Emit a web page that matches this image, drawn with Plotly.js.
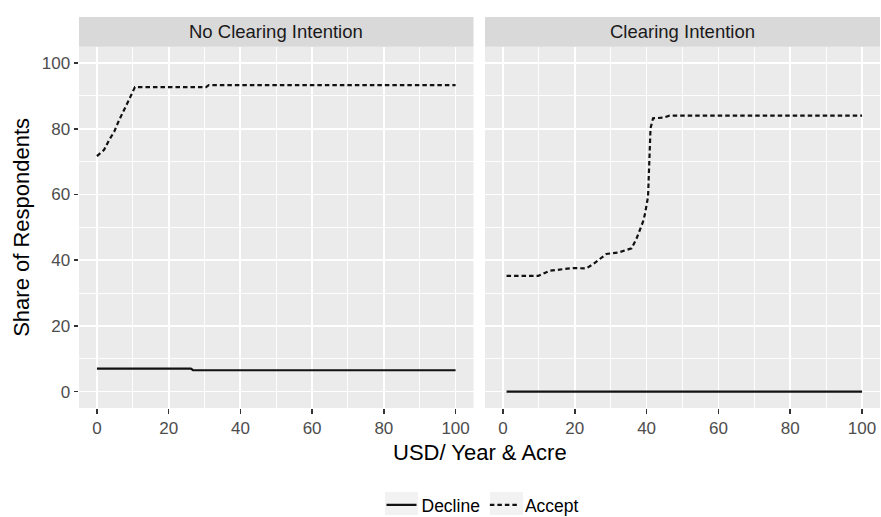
<!DOCTYPE html>
<html>
<head>
<meta charset="utf-8">
<script src="https://cdn.plot.ly/plotly-3.0.1.min.js"></script>
<style>html,body{margin:0;padding:0;background:#fff;}</style>
</head>
<body>
<div id="chart" style="width:881px;height:517px;"></div>
<script>
// Facet labels
const facets = ["No Clearing Intention", "Clearing Intention"];
const seriesNames = ["Decline", "Accept"];

// No Clearing Intention
const noClearDeclineX = [0, 26.2, 26.8, 100];
const noClearDeclineY = [7.0, 7.0, 6.5, 6.5];
const noClearAcceptX = [0, 2, 3.4, 4.8, 6.2, 7.4, 8.7, 10.6, 30.4, 31.2, 100];
const noClearAcceptY = [71.7, 73.6, 76.6, 79.1, 82.7, 85.2, 88.3, 92.7, 92.7, 93.3, 93.3];

// Clearing Intention
const clearDeclineX = [1, 100];
const clearDeclineY = [0, 0];
const clearAcceptX = [1, 9.8, 13, 15.8, 19.5, 23.2, 25.1, 28.8, 32, 35.8, 37.2, 39, 39.5, 40.4, 40.7, 40.9, 41.1, 41.8, 44.6, 46.4, 100];
const clearAcceptY = [35.2, 35.2, 36.8, 37.2, 37.6, 37.5, 38.8, 41.9, 42.3, 43.6, 46.6, 51.7, 53.8, 59.3, 68.5, 75.6, 80.2, 83.2, 83.4, 84.0, 84.0];

const tickVals = [0, 20, 40, 60, 80, 100];
const tickText = ["0", "20", "40", "60", "80", "100"];

const FONT = "Liberation Sans, Arial, sans-serif";
const solid = {color: "#111", width: 2.2};
const dashed = {color: "#111", width: 2.2, dash: "4.5px,3px"};

const traces = [
  {x: noClearDeclineX, y: noClearDeclineY, name: seriesNames[0], legendgroup: "d", mode: "lines", line: solid, xaxis: "x", yaxis: "y", showlegend: true},
  {x: noClearAcceptX, y: noClearAcceptY, name: seriesNames[1], legendgroup: "a", mode: "lines", line: dashed, xaxis: "x", yaxis: "y", showlegend: true},
  {x: clearDeclineX, y: clearDeclineY, name: seriesNames[0], legendgroup: "d", mode: "lines", line: solid, xaxis: "x2", yaxis: "y2", showlegend: false},
  {x: clearAcceptX, y: clearAcceptY, name: seriesNames[1], legendgroup: "a", mode: "lines", line: dashed, xaxis: "x2", yaxis: "y2", showlegend: false}
];

const W = 881, H = 517, ML = 79, MR = 1, MT = 17, MB = 109;
const PW = W - ML - MR, PH = H - MT - MB;
const px2x = p => (p - ML) / PW;
const py2y = p => (H - MB - p) / PH;
const yTop = py2y(46.7);

const xax = (dom) => ({
  domain: dom, range: [-5, 105], tickvals: tickVals, ticktext: tickText,
  ticks: "outside", ticklen: 4.5, tickwidth: 1.5, tickcolor: "#333",
  tickfont: {family: FONT, size: 17, color: "#4d4d4d"},
  showgrid: true, gridcolor: "#ffffff", gridwidth: 1.8,
  minor: {dtick: 10, tick0: 0, showgrid: true, gridcolor: "#ffffff", gridwidth: 0.9, ticks: ""},
  zeroline: false, showline: false, fixedrange: true, automargin: false
});
const yax = (dom, labels) => ({
  domain: dom, range: [-5, 105], tickvals: tickVals, ticktext: tickText,
  ticks: labels ? "outside" : "", ticklen: 4.5, tickwidth: 1.5, tickcolor: "#333",
  showticklabels: labels,
  tickfont: {family: FONT, size: 17, color: "#4d4d4d"},
  showgrid: true, gridcolor: "#ffffff", gridwidth: 1.8,
  minor: {dtick: 10, tick0: 0, showgrid: true, gridcolor: "#ffffff", gridwidth: 0.9, ticks: ""},
  zeroline: false, showline: false, fixedrange: true, automargin: false
});

const xDom1 = [0, px2x(473.5)];
const xDom2 = [px2x(485), 1];

const layout = {
  width: W, height: H,
  margin: {l: ML, r: MR, t: MT, b: MB, pad: 0, autoexpand: false},
  paper_bgcolor: "#ffffff", plot_bgcolor: "#ebebeb",
  font: {family: FONT, color: "#000"},
  xaxis: Object.assign(xax(xDom1), {anchor: "y"}),
  xaxis2: Object.assign(xax(xDom2), {anchor: "y2"}),
  yaxis: Object.assign(yax([0, yTop], true), {anchor: "x",
    title: {text: "Share of Respondents", font: {family: FONT, size: 22, color: "#000"}, standoff: 6}}),
  yaxis2: Object.assign(yax([0, yTop], false), {anchor: "x2", matches: "y"}),
  showlegend: true,
  legend: {orientation: "h", xref: "paper", x: px2x(483), xanchor: "center",
    yref: "container", y: (H - 505) / H, yanchor: "middle",
    font: {family: FONT, size: 17.5, color: "#000"}, bgcolor: "rgba(0,0,0,0)", itemwidth: 30,
    traceorder: "normal", itemclick: false, itemdoubleclick: false},
  shapes: [
    {type: "rect", xref: "x domain", yref: "paper", x0: 0, x1: 1, y0: yTop, y1: 1, fillcolor: "#d9d9d9", line: {width: 0}, layer: "below"},
    {type: "rect", xref: "x2 domain", yref: "paper", x0: 0, x1: 1, y0: yTop, y1: 1, fillcolor: "#d9d9d9", line: {width: 0}, layer: "below"},
    {type: "rect", xref: "paper", yref: "paper", x0: px2x(385), x1: px2x(418), y0: py2y(515), y1: py2y(492), fillcolor: "#f2f2f2", line: {width: 0}, layer: "below"},
    {type: "rect", xref: "paper", yref: "paper", x0: px2x(490), x1: px2x(523), y0: py2y(515), y1: py2y(492), fillcolor: "#f2f2f2", line: {width: 0}, layer: "below"}
  ],
  annotations: [
    {text: facets[0], xref: "x domain", yref: "paper", x: 0.5, y: (yTop + 1) / 2, xanchor: "center", yanchor: "middle", showarrow: false, font: {family: FONT, size: 18.5, color: "#1a1a1a"}},
    {text: facets[1], xref: "x2 domain", yref: "paper", x: 0.5, y: (yTop + 1) / 2, xanchor: "center", yanchor: "middle", showarrow: false, font: {family: FONT, size: 18.5, color: "#1a1a1a"}},
    {text: "USD/ Year &amp; Acre", xref: "paper", yref: "paper", x: px2x(480), y: py2y(452), xanchor: "center", yanchor: "middle", showarrow: false, font: {family: FONT, size: 22, color: "#000"}}
  ]
};

Plotly.newPlot("chart", traces, layout, {staticPlot: true, displayModeBar: false});
</script>
</body>
</html>
